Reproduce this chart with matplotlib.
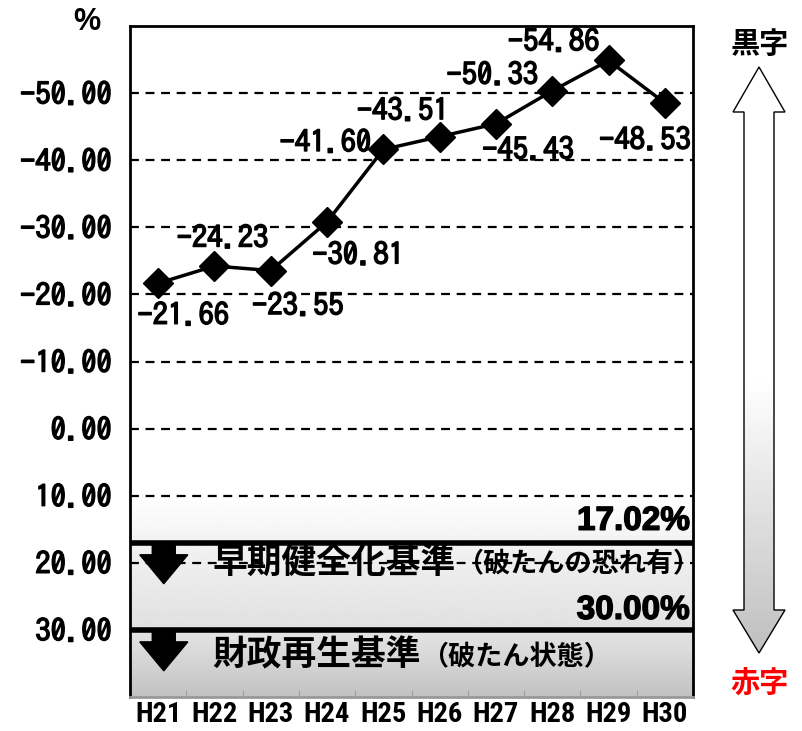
import numpy as np
import matplotlib.pyplot as plt
import matplotlib.patheffects as pe
from matplotlib.patches import Polygon

plt.rcParams['font.family'] = ['IPAGothic', 'Noto Sans CJK JP', 'DejaVu Sans']

years = ["H21", "H22", "H23", "H24", "H25", "H26", "H27", "H28", "H29", "H30"]
ratios = [-21.66, -24.23, -23.55, -30.81, -41.60, -43.51, -45.43, -50.33, -54.86, -48.53]
yticks = [-50, -40, -30, -20, -10, 0, 10, 20, 30]
early_line = 17.02
rebuild_line = 30.00

# label offsets in pixels (dx, dy up-positive)
label_offsets = [(25, -32), (8, 28), (27, -35), (31, -33), (-58, 7), (-37, 26),
                 (32, -26), (-60, 16), (-55, 19), (-20, -37)]

cjk = ['Noto Sans CJK JP', 'DejaVu Sans']
heavy = [pe.withStroke(linewidth=1.1, foreground='black')]
heavier = [pe.withStroke(linewidth=1.0, foreground='black')]

fig = plt.figure(figsize=(8.03, 7.31), dpi=100)
ax = fig.add_axes([130 / 803, 1 - 697 / 731, 563 / 803, 671 / 731])
x = np.arange(len(years))

ax.set_xlim(-0.5, len(years) - 0.5)
ax.set_ylim(40, -60)

# background gradient of the lower part
gy = np.linspace(10, 40, 300)
shade = np.interp(gy, [10, 17, 30, 30.01, 40], [1.0, 0.95, 0.88, 0.90, 0.76])
ax.imshow(shade.reshape(-1, 1), cmap='gray', vmin=0, vmax=1, aspect='auto',
          extent=(-0.5, len(years) - 0.5, 40, 10), zorder=0)

for t in yticks:
    ax.axhline(t, color='black', lw=1.6, ls=(0, (4, 3)), zorder=1)
ax.axhline(early_line, color='black', lw=4, zorder=2)
ax.axhline(rebuild_line, color='black', lw=4, zorder=2)

ax.plot(x, ratios, color='black', lw=2.5, marker='D', markersize=15, zorder=5)
for xi, v, off in zip(x, ratios, label_offsets):
    ax.annotate(f"{v:.2f}", (xi, v), xytext=off, textcoords='offset pixels',
                ha='center', va='center', fontsize=22, zorder=6, path_effects=heavy)

ax.set_yticks(yticks)
ax.set_yticklabels([f"{t:.2f}" for t in yticks], fontsize=22)
for lab in ax.get_yticklabels():
    lab.set_path_effects(heavy)
ax.set_xticks(x)
ax.set_xticklabels(years, fontsize=20.5, fontweight='bold',
                   family=['Roboto Condensed', 'DejaVu Sans'])
ax.tick_params(axis='both', length=0)
ax.tick_params(axis='y', pad=13)
ax.tick_params(axis='x', pad=3)
ax.set_xticks(np.arange(-0.5, len(years), 1), minor=True)
ax.tick_params(axis='x', which='minor', direction='in', length=5, color='#999999')
for s in ['left', 'top', 'right']:
    ax.spines[s].set_linewidth(2)
ax.spines['bottom'].set_color('#999999')
ax.spines['bottom'].set_linewidth(2)

pct_font = ['Liberation Sans', 'DejaVu Sans']
ax.annotate("17.02%", (9.45, early_line), xytext=(0, 6), textcoords='offset pixels',
            ha='right', va='bottom', fontsize=24, fontweight='bold', family=pct_font,
            path_effects=heavier)
ax.annotate("30.00%", (9.45, rebuild_line), xytext=(0, 4), textcoords='offset pixels',
            ha='right', va='bottom', fontsize=24, fontweight='bold', family=pct_font,
            path_effects=heavier)

t1 = ax.text(0.97, 20, "早期健全化基準", ha='left', va='center', fontsize=25,
             fontweight='bold', family=cjk)
ax.annotate("（破たんの恐れ有）", xy=(1, 0.45), xycoords=t1, ha='left', va='center',
            fontsize=19.5, fontweight='bold', family=cjk)
t2 = ax.text(0.97, 33.8, "財政再生基準", ha='left', va='center', fontsize=25,
             fontweight='bold', family=cjk)
ax.annotate("（破たん状態）", xy=(1, 0.45), xycoords=t2, ha='left', va='center',
            fontsize=19.5, fontweight='bold', family=cjk)

# black down arrows hanging from the two threshold lines (pixel sizes -> data units)
px = 1 / 56.3
py = 1 / 6.72
def down_arrow(cx, top, head, tip):
    pts = [(cx - 11.5 * px, top), (cx + 11.5 * px, top), (cx + 11.5 * px, top + head * py),
           (cx + 24 * px, top + head * py), (cx, top + tip * py),
           (cx - 24 * px, top + head * py), (cx - 11.5 * px, top + head * py)]
    ax.add_patch(Polygon(pts, closed=True, color='black', zorder=3))

down_arrow(0.1, early_line, 12, 41)
down_arrow(0.1, rebuild_line, 12, 41)

# overlay in pixel coordinates
ov = fig.add_axes([0, 0, 1, 1], zorder=10)
ov.set_xlim(0, 803)
ov.set_ylim(731, 0)
ov.axis('off')
ov.patch.set_alpha(0)

cx = 759
pts = [(cx, 67), (cx + 26, 112), (cx + 15, 112), (cx + 15, 610), (cx + 26, 610),
       (cx, 653), (cx - 26, 610), (cx - 15, 610), (cx - 15, 112), (cx - 26, 112)]
arrow = Polygon(pts, closed=True, facecolor='none', edgecolor='black', lw=1, zorder=2)
ov.add_patch(arrow)
ay = np.linspace(67, 653, 300)
ashade = np.interp(ay, [67, 380, 653], [1.0, 1.0, 0.75])
img = ov.imshow(ashade.reshape(-1, 1), cmap='gray', vmin=0, vmax=1, aspect='auto',
                extent=(cx - 27, cx + 27, 653, 67), zorder=1)
img.set_clip_path(arrow)
ov.set_xlim(0, 803)
ov.set_ylim(731, 0)

ov.text(760, 44, "黒字", ha='center', va='center', fontsize=21, fontweight='bold',
        family=cjk)
ov.text(760, 683, "赤字", ha='center', va='center', fontsize=21, fontweight='bold',
        color='#ff0000', family=cjk)
ov.text(87, 22, "%", ha='center', va='center', fontsize=22, fontweight='bold',
        family=pct_font)

fig.savefig("out.png", dpi=100)
